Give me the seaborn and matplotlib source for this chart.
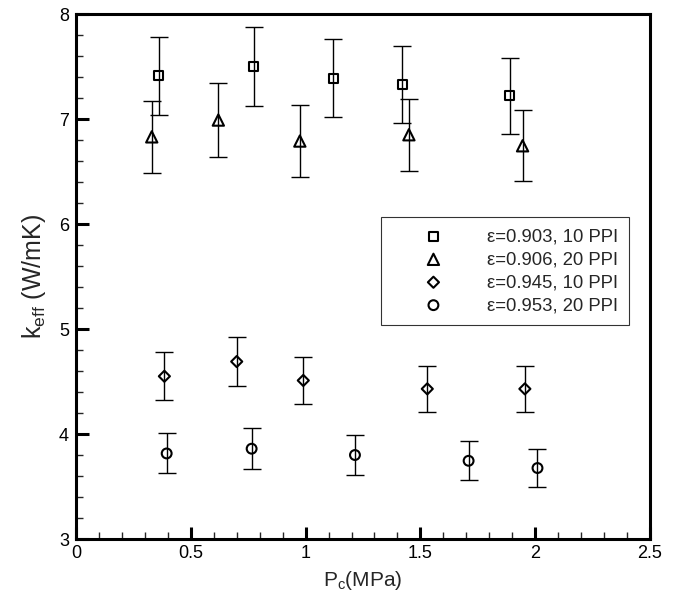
import matplotlib
matplotlib.use("Agg")
import matplotlib.pyplot as plt
import numpy as np
import pandas as pd
import seaborn as sns
from matplotlib.ticker import MultipleLocator

# data
labels = ["ε=0.903, 10 PPI", "ε=0.906, 20 PPI", "ε=0.945, 10 PPI", "ε=0.953, 20 PPI"]
markers = ["s", "^", "D", "o"]
sizes = [42, 66, 32, 50]

p_903 = [0.36, 0.775, 1.12, 1.42, 1.89]
k_903 = [7.41, 7.50, 7.39, 7.33, 7.22]
e_903 = [0.37, 0.375, 0.37, 0.37, 0.36]

p_906 = [0.33, 0.62, 0.975, 1.45, 1.945]
k_906 = [6.83, 6.99, 6.79, 6.85, 6.745]
e_906 = [0.34, 0.35, 0.34, 0.345, 0.34]

p_945 = [0.385, 0.70, 0.99, 1.53, 1.955]
k_945 = [4.55, 4.69, 4.51, 4.43, 4.43]
e_945 = [0.227, 0.235, 0.225, 0.222, 0.222]

p_953 = [0.395, 0.765, 1.215, 1.71, 2.01]
k_953 = [3.815, 3.86, 3.80, 3.745, 3.676]
e_953 = [0.19, 0.193, 0.19, 0.186, 0.185]

series = [(p_903, k_903, e_903), (p_906, k_906, e_906),
          (p_945, k_945, e_945), (p_953, k_953, e_953)]

sns.set_style("ticks")
plt.rcParams["font.family"] = ["Liberation Sans", "DejaVu Sans"]
plt.rcParams["mathtext.fontset"] = "custom"
plt.rcParams["mathtext.rm"] = "Liberation Sans"

fig = plt.figure(figsize=(6.79, 5.96), dpi=100)
ax = fig.add_axes([0.1119, 0.0956, 0.8454, 0.8809])

for (p, k, e), lab, m, s in zip(series, labels, markers, sizes):
    df = pd.DataFrame({"P": p, "k": k, "err": e})
    ax.errorbar(df["P"], df["k"], yerr=df["err"], fmt="none", ecolor="black",
                elinewidth=1.0, capsize=6.5, capthick=1.0, zorder=2)
    sns.scatterplot(data=df, x="P", y="k", marker=m, s=s, facecolor="none",
                    edgecolor="black", linewidth=1.5, label=lab, ax=ax, zorder=3)

ax.set_xlim(0, 2.5)
ax.set_ylim(3, 8)
ax.xaxis.set_major_locator(MultipleLocator(0.5))
ax.xaxis.set_minor_locator(MultipleLocator(0.1))
ax.yaxis.set_major_locator(MultipleLocator(1))
ax.yaxis.set_minor_locator(MultipleLocator(0.2))
ax.set_xticks([0, 0.5, 1, 1.5, 2, 2.5], ["0", "0.5", "1", "1.5", "2", "2.5"])

for sp in ax.spines.values():
    sp.set_linewidth(2.2)
    sp.set_color("black")
ax.tick_params(which="major", direction="in", length=9, width=2.2,
               labelsize=13, colors="black", top=False, right=False)
ax.tick_params(axis="x", which="major", pad=4)
ax.tick_params(axis="y", which="major", pad=5)
ax.tick_params(which="minor", direction="in", length=5, width=1.0,
               top=False, right=False)

ax.set_xlabel(r"$\mathregular{P_c}$(MPa)", fontsize=15, labelpad=5)
ax.set_ylabel(r"$\mathregular{k_{eff}}$ (W/mK)", fontsize=18, labelpad=8)

leg = ax.legend(loc="upper left", bbox_to_anchor=(0.531, 0.613), borderaxespad=0,
                fontsize=13.3, frameon=True, fancybox=False, edgecolor="black",
                handlelength=4.5, handletextpad=0.65, labelspacing=0.32,
                borderpad=0.6, markerscale=1.0)
leg.get_frame().set_linewidth(0.8)

fig.savefig("out.png", dpi=100)
